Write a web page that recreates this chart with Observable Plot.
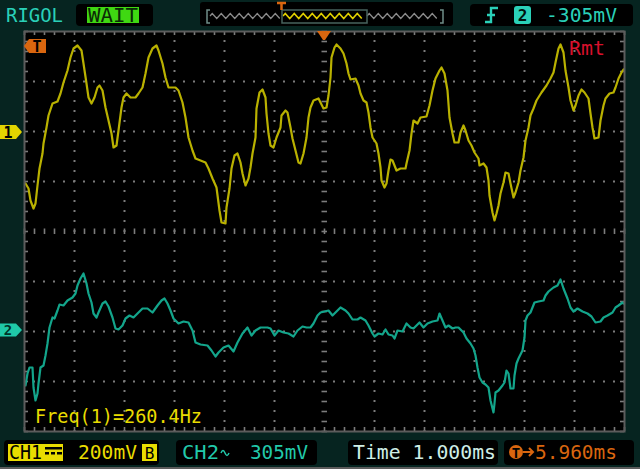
<!DOCTYPE html>
<html><head><meta charset="utf-8">
<script src="https://cdn.jsdelivr.net/npm/d3@7"></script>
<script src="https://cdn.jsdelivr.net/npm/@observablehq/plot@0.6"></script>
<style>html,body{margin:0;padding:0;background:#062420;overflow:hidden}svg{display:block}</style>
</head><body><div id="chart"></div>
<script>
// ---- data: [time (ms from trigger), volts (mV from channel ground)] ----
const ch1Samples = [
[-5.98,-208],[-5.92,-228],[-5.88,-276],[-5.82,-308],[-5.78,-288],[-5.74,-216],[-5.70,-148],[-5.64,-88],[-5.62,-48],[-5.56,16],
[-5.52,64],[-5.44,112],[-5.34,120],[-5.28,152],[-5.22,196],[-5.14,244],[-5.08,296],[-5.02,332],[-4.94,344],[-4.86,324],
[-4.82,272],[-4.76,192],[-4.72,136],[-4.66,112],[-4.60,136],[-4.54,176],[-4.50,184],[-4.44,164],[-4.38,96],[-4.32,44],
[-4.26,-8],[-4.22,-64],[-4.16,-56],[-4.12,4],[-4.06,96],[-4.02,136],[-3.96,152],[-3.88,136],[-3.78,136],[-3.72,152],
[-3.64,176],[-3.58,232],[-3.52,296],[-3.44,332],[-3.36,344],[-3.32,324],[-3.24,272],[-3.18,216],[-3.12,176],[-2.98,176],
[-2.92,164],[-2.84,116],[-2.78,56],[-2.72,-24],[-2.64,-76],[-2.58,-108],[-2.48,-116],[-2.38,-124],[-2.32,-148],[-2.24,-188],
[-2.16,-224],[-2.10,-316],[-2.06,-364],[-1.98,-368],[-1.96,-304],[-1.90,-228],[-1.86,-148],[-1.80,-96],[-1.74,-88],[-1.68,-124],
[-1.64,-168],[-1.58,-216],[-1.52,-188],[-1.48,-144],[-1.44,-88],[-1.38,-24],[-1.36,92],[-1.30,156],[-1.24,168],[-1.18,136],
[-1.16,72],[-1.12,-8],[-1.08,-56],[-1.02,-64],[-0.96,-24],[-0.88,16],[-0.86,64],[-0.78,84],[-0.74,76],[-0.68,16],
[-0.64,-28],[-0.58,-76],[-0.52,-124],[-0.48,-128],[-0.42,-88],[-0.36,-24],[-0.32,56],[-0.28,96],[-0.22,124],[-0.12,132],
[-0.08,116],[-0.02,92],[0.04,96],[0.08,144],[0.12,216],[0.14,296],[0.20,336],[0.24,348],[0.32,332],[0.38,312],
[0.44,272],[0.48,232],[0.52,208],[0.62,212],[0.68,184],[0.72,152],[0.78,124],[0.84,116],[0.88,76],[0.92,16],
[0.96,-24],[1.04,-48],[1.08,-88],[1.12,-144],[1.14,-196],[1.20,-224],[1.24,-208],[1.28,-156],[1.32,-112],[1.36,-116],
[1.44,-156],[1.52,-148],[1.62,-148],[1.64,-128],[1.70,-76],[1.74,-8],[1.78,44],[1.86,32],[1.92,56],[2.04,60],
[2.10,104],[2.16,164],[2.22,212],[2.30,244],[2.34,256],[2.40,232],[2.46,164],[2.50,56],[2.56,-8],[2.60,-44],
[2.68,-44],[2.72,-4],[2.78,24],[2.82,4],[2.88,-36],[2.94,-56],[3.00,-84],[3.08,-108],[3.10,-136],[3.18,-128],
[3.24,-144],[3.28,-196],[3.30,-256],[3.36,-324],[3.40,-356],[3.44,-328],[3.48,-296],[3.52,-248],[3.58,-204],[3.62,-164],
[3.68,-168],[3.72,-208],[3.78,-264],[3.82,-244],[3.88,-204],[3.92,-156],[3.98,-104],[4.02,-36],[4.08,16],[4.12,64],
[4.18,92],[4.24,124],[4.34,156],[4.44,184],[4.52,212],[4.58,236],[4.62,276],[4.68,332],[4.72,348],[4.78,316],
[4.82,244],[4.88,176],[4.92,124],[4.98,84],[5.02,104],[5.08,144],[5.14,168],[5.20,156],[5.28,132],[5.32,72],
[5.36,16],[5.40,-28],[5.48,-24],[5.52,44],[5.58,104],[5.62,132],[5.70,152],[5.78,156],[5.82,176],[5.88,212],
[5.94,236],[5.98,248]
];
const ch2Samples = [
[-5.98,-550],[-5.94,-430],[-5.90,-370],[-5.84,-370],[-5.82,-570],[-5.78,-700],[-5.74,-630],[-5.72,-530],[-5.68,-370],[-5.62,-350],
[-5.58,-250],[-5.54,-130],[-5.50,30],[-5.44,130],[-5.40,120],[-5.34,200],[-5.30,260],[-5.22,250],[-5.14,300],[-5.04,330],
[-4.98,370],[-4.94,450],[-4.88,520],[-4.82,570],[-4.76,470],[-4.72,370],[-4.66,280],[-4.62,170],[-4.56,130],[-4.52,180],
[-4.44,270],[-4.38,290],[-4.32,240],[-4.24,130],[-4.18,20],[-4.12,10],[-4.04,50],[-3.98,120],[-3.90,150],[-3.82,130],
[-3.74,170],[-3.64,220],[-3.54,220],[-3.44,180],[-3.34,250],[-3.26,300],[-3.20,320],[-3.14,270],[-3.08,200],[-3.02,120],
[-2.92,70],[-2.82,90],[-2.72,80],[-2.64,0],[-2.58,-120],[-2.48,-140],[-2.34,-150],[-2.26,-200],[-2.18,-260],[-2.12,-220],
[-2.02,-170],[-1.92,-150],[-1.82,-210],[-1.74,-120],[-1.64,-30],[-1.54,30],[-1.46,-50],[-1.38,0],[-1.28,30],[-1.14,30],
[-1.08,20],[-1.00,-50],[-0.92,0],[-0.82,-20],[-0.72,-30],[-0.62,-60],[-0.54,0],[-0.44,40],[-0.36,30],[-0.28,30],
[-0.22,70],[-0.14,150],[-0.10,170],[-0.08,180],[0.08,200],[0.16,150],[0.26,200],[0.32,230],[0.42,200],[0.48,170],
[0.56,110],[0.66,110],[0.72,130],[0.82,100],[0.88,50],[0.96,-30],[1.00,-60],[1.08,-30],[1.16,-40],[1.22,10],
[1.28,-40],[1.36,-50],[1.40,-80],[1.46,0],[1.56,-10],[1.64,70],[1.72,30],[1.78,20],[1.90,80],[1.98,30],
[2.06,70],[2.16,90],[2.26,100],[2.30,170],[2.36,100],[2.42,30],[2.48,50],[2.56,20],[2.62,30],[2.68,30],
[2.78,-20],[2.84,-80],[2.92,-130],[2.98,-180],[3.02,-250],[3.06,-370],[3.10,-470],[3.16,-520],[3.22,-540],[3.28,-570],
[3.32,-700],[3.38,-820],[3.40,-730],[3.42,-620],[3.48,-600],[3.56,-550],[3.60,-520],[3.64,-400],[3.68,-430],[3.72,-580],
[3.78,-580],[3.80,-450],[3.84,-330],[3.88,-280],[3.96,-200],[4.00,-70],[4.02,100],[4.06,150],[4.12,180],[4.16,230],
[4.20,280],[4.28,290],[4.38,300],[4.42,350],[4.48,390],[4.58,430],[4.66,450],[4.72,510],[4.78,420],[4.86,320],
[4.92,230],[4.98,190],[5.06,220],[5.16,190],[5.26,170],[5.34,140],[5.42,80],[5.52,90],[5.58,130],[5.66,150],
[5.76,180],[5.82,230],[5.88,250],[5.96,280],[5.98,270]
];
const ch1VoltsPerDiv = 200;   // mV/div
const ch2VoltsPerDiv = 500;   // mV/div
const ch1OffsetDiv = 2;       // ground marker position (divisions)
const ch2OffsetDiv = -1.98;
const trigLevelDiv = 3.7;
const timeDivisions = [-6,-5,-4,-3,-2,-1,0,1,2,3,4,5,6];
const voltDivisions = [-4,-3,-2,-1,0,1,2,3,4];
const statusTop = {brand: "RIGOL", state: "WAIT", trigSource: "2", trigLevel: "-305mV"};
const statusBottom = {ch1: "CH1", ch1Scale: "200mV", ch2: "CH2", ch2Scale: "305mV", time: "Time 1.000ms", trigPos: "5.960ms"};
const measurement = "Freq(1)=260.4Hz";
const remoteLabel = "Rmt";

// colours
const BG = "#062420", GRID = "#7c7c7c";
const C1 = "#b9b100", C1T = "#e9dc00";
const C2 = "#13a58b", C2T = "#22c9aa";
const CY = "#2ad0b8", OR = "#d9660f", RED = "#d8102c", PALE = "#cfeee6";

const minorX = d3.range(-6, 6.0001, 0.2).map(v => +v.toFixed(2));
const minorY = d3.range(-4, 4.0001, 0.2).map(v => +v.toFixed(2));
const tickStyle = {stroke: GRID, strokeWidth: 1.6};

const plot = Plot.plot({
  width: 640, height: 469,
  marginLeft: 24, marginRight: 16, marginTop: 31, marginBottom: 38,
  x: {domain: [-6, 6], axis: null},
  y: {domain: [-4, 4], axis: null},
  style: {background: BG, overflow: "visible"},
  marks: [
    Plot.frame({fill: "#000"}),
    Plot.ruleX(timeDivisions.filter(d => d !== 0 && Math.abs(d) !== 6), {stroke: GRID, strokeWidth: 2, strokeDasharray: "2,8", strokeDashoffset: 1}),
    Plot.ruleY(voltDivisions.filter(d => d !== 0 && Math.abs(d) !== 4), {stroke: GRID, strokeWidth: 2, strokeDasharray: "2,8", strokeDashoffset: 1}),
    Plot.ruleY(minorY, {x1: -0.05, x2: 0.06, ...tickStyle}),
    Plot.ruleX(minorX, {y1: -0.06, y2: 0.05, ...tickStyle}),
    Plot.ruleX(minorX, {y1: 4, y2: 3.92, ...tickStyle}),
    Plot.ruleX(minorX, {y1: -4, y2: -3.92, ...tickStyle}),
    Plot.ruleY(minorY, {x1: -6, x2: -5.92, ...tickStyle}),
    Plot.ruleY(minorY, {x1: 5.92, x2: 6, ...tickStyle}),
    Plot.line(ch2Samples, {x: d => d[0], y: d => d[1] / ch2VoltsPerDiv + ch2OffsetDiv, stroke: C2, strokeWidth: 2.2}),
    Plot.line(ch1Samples, {x: d => d[0], y: d => d[1] / ch1VoltsPerDiv + ch1OffsetDiv, stroke: C1, strokeWidth: 2.2}),
    Plot.frame({stroke: "#5c5c5c", strokeWidth: 2})
  ]
});
document.getElementById("chart").appendChild(plot);

const X = v => plot.scale("x").apply(v);
const Y = v => plot.scale("y").apply(v);
const g = d3.select(plot).append("g");
const FONT = "'DejaVu Sans Mono', 'Liberation Mono', monospace";
function rect(x, y, w, h, fill, r = 0) {
  return g.append("rect").attr("x", x).attr("y", y).attr("width", w).attr("height", h).attr("rx", r).attr("fill", fill);
}
function txt(x, y, s, fill, len, size = 19, anchor = "start", weight = "normal") {
  const t = g.append("text").attr("x", x).attr("y", y).text(s).attr("fill", fill)
    .attr("font-family", FONT).attr("font-size", size).attr("text-anchor", anchor).attr("font-weight", weight);
  if (len) t.attr("textLength", len).attr("lengthAdjust", "spacingAndGlyphs");
  return t;
}
function path(d, stroke, w = 2, fill = "none") {
  return g.append("path").attr("d", d).attr("stroke", stroke).attr("stroke-width", w).attr("fill", fill);
}

// --- top bar ---
txt(6, 22, statusTop.brand, CY, 57);
rect(76, 4, 77, 22, "#000", 4);
rect(87, 7, 52, 16, "#3fd812");
txt(88, 22, statusTop.state, "#0b2a06", 50);

rect(200, 2, 253, 24, "#000", 3);
path("M210,10 H207 V23 H210", "#6f8d88", 1.5);
path("M440,10 H443 V23 H440", "#6f8d88", 1.5);
function zig(x0, x1) {
  let d = "M" + x0 + ",16", up = true;
  for (let x = x0 + 2.25; x <= x1; x += 4.5) { d += " L" + x + "," + (up ? 13.5 : 18.5); up = !up; }
  return d;
}
path(zig(210, 282), "#8c8c8c", 1.3);
path(zig(367, 440), "#8c8c8c", 1.3);
path(zig(283, 366), "#e0d000", 1.6);
g.append("rect").attr("x", 282).attr("y", 10).attr("width", 85).attr("height", 13).attr("fill", "none").attr("stroke", "#47635e").attr("stroke-width", 1.5);
path("M277,3 H286 M281.5,3 V10", OR, 2.5);

rect(470, 4, 163, 22, "#000", 4);
path("M485,22 H491 V8 H498 M487,15 H495", CY, 2.4);
rect(514, 6, 17, 18, CY, 3);
txt(522.5, 21, statusTop.trigSource, "#00140f", null, 16, "middle", "bold");
txt(546, 22, statusTop.trigLevel, CY, 71);

// --- screen annotations ---
const tp = X(0);
g.append("polygon").attr("points", `${tp-7},31 ${tp+7},31 ${tp+1},40 ${tp-1},40`).attr("fill", OR);
const ty = Y(trigLevelDiv);
g.append("polygon").attr("points", `24,${ty} 29,${ty-7} 46,${ty-7} 46,${ty+7} 29,${ty+7}`).attr("fill", OR);
txt(37, ty + 5.5, "T", "#000", null, 15, "middle", "bold");
txt(569, 55, remoteLabel, RED, 36);
txt(35, 423, measurement, C1T, 167);

// channel ground markers
const y1 = Y(ch1OffsetDiv) + 1;
g.append("polygon").attr("points", `0,${y1-7} 16,${y1-7} 22,${y1} 16,${y1+7} 0,${y1+7}`).attr("fill", "#e2d400");
txt(8, y1 + 5.5, "1", "#000", null, 15, "middle", "bold");
const y2 = Y(ch2OffsetDiv);
g.append("polygon").attr("points", `0,${y2-6.5} 16,${y2-6.5} 22,${y2} 16,${y2+6.5} 0,${y2+6.5}`).attr("fill", "#1fc9a8");
txt(8, y2 + 5, "2", "#003328", null, 14, "middle", "bold");

// --- bottom bar ---
rect(0, 467, 640, 2, "#5c5c5c");
rect(4, 440, 155, 25, "#000", 4);
rect(8, 444, 55, 17, C1T);
txt(9, 459, statusBottom.ch1, "#000", 33);
rect(45, 447, 17, 2.5, "#000");
rect(45, 452, 4, 2.5, "#000"); rect(51, 452, 4, 2.5, "#000"); rect(57, 452, 5, 2.5, "#000");
txt(78, 459, statusBottom.ch1Scale, C1T, 59);
rect(142, 444, 15, 17, C1T);
txt(149.5, 459, "B", "#000", null, 16, "middle");

rect(176, 440, 141, 25, "#000", 4);
txt(182, 459, statusBottom.ch2, C2T, 37);
path("M221,453 q2,-5 4,0 t4,0", C2T, 1.5);
txt(250, 459, statusBottom.ch2Scale, C2T, 58);

rect(348, 440, 150, 25, "#000", 4);
txt(353, 459, statusBottom.time, PALE, 143);

rect(504, 440, 130, 25, "#000", 4);
g.append("circle").attr("cx", 516).attr("cy", 452).attr("r", 7).attr("fill", OR);
txt(516, 457.5, "T", "#000", null, 14, "middle", "bold");
path("M523,452 H533 M529,448 L533,452 L529,456", OR, 2);
txt(535, 459, statusBottom.trigPos, OR, 82);
</script>
</body></html>
